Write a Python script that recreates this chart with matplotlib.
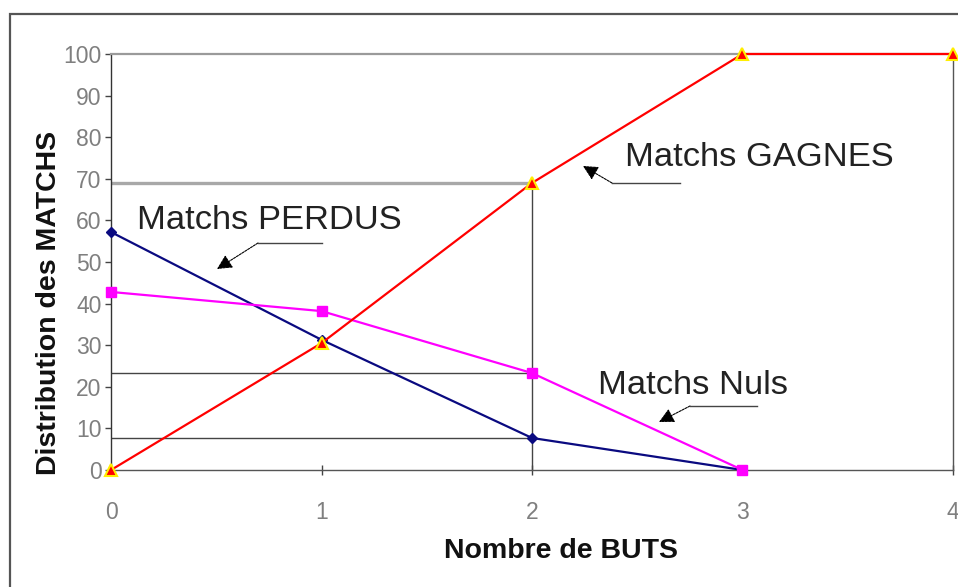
import matplotlib
matplotlib.use("Agg")
import matplotlib.pyplot as plt
from matplotlib.lines import Line2D
from matplotlib.patches import Rectangle

plt.rcParams['font.family'] = ['Liberation Sans', 'DejaVu Sans']

# ---- data ----
buts = [0, 1, 2, 3, 4]
gagnes = [0, 30.5, 69, 100, 100]
perdus = [57.2, 31.3, 7.7, 0]
nuls = [42.8, 38.2, 23.3, 0]
yticks = list(range(0, 101, 10))
xticks = [0, 1, 2, 3, 4]
ref_idx = 2  # highlighted number of goals

W, H = 958, 587
fig = plt.figure(figsize=(W / 100, H / 100), dpi=100)

def P(x, y):
    return (x / W, 1 - y / H)

# outer frame
fig.patches.append(Rectangle(P(10, 600), (970 - 10) / W, (600 - 14) / H,
                             transform=fig.transFigure, fill=False,
                             edgecolor='#555555', linewidth=1.6, clip_on=False))

ax = fig.add_axes([111 / W, 117 / H, 842 / W, 416 / H])
ax.set_xlim(0, 4)
ax.set_ylim(0, 100)

# spines
ax.spines['left'].set_color('#333333')
ax.spines['bottom'].set_color('#555555')
ax.spines['right'].set_color('#555555')
ax.spines['top'].set_color('#9a9a9a')
ax.spines['top'].set_linewidth(1.6)
for s in ['left', 'bottom', 'right']:
    ax.spines[s].set_linewidth(1.0)

# reference lines at the highlighted abscissa
xr = buts[ref_idx]
ax.plot([0, xr], [gagnes[ref_idx]] * 2, color='#a8a8a8', lw=2.4, zorder=1)
ax.plot([0, xr], [nuls[ref_idx]] * 2, color='#444444', lw=1.0, zorder=1)
ax.plot([0, xr], [perdus[ref_idx]] * 2, color='#444444', lw=1.0, zorder=1)
ax.plot([xr, xr], [0, gagnes[ref_idx]], color='#444444', lw=1.0, zorder=1)

# series
ax.plot(buts[:len(perdus)], perdus, color='#0a0a80', lw=1.6, marker='D',
        ms=5, mfc='#0a0a80', mec='#0a0a80', zorder=3, clip_on=False)
ax.plot(buts[:len(nuls)], nuls, color='#ff00ff', lw=1.6, marker='s',
        ms=7.5, mfc='#ff00ff', mec='#ff00ff', zorder=3, clip_on=False)
ax.plot(buts, gagnes, color='#ff0000', lw=1.6, marker='^',
        ms=8, mfc='#ff0000', mec='#ffee00', mew=1.5, zorder=4, clip_on=False)

# ticks
ax.set_xticks(xticks)
ax.set_yticks(yticks)
ax.tick_params(axis='y', direction='out', length=4.3, width=1, color='#444444',
               pad=2.5, labelsize=16.5, labelcolor='#7f7f7f')
ax.tick_params(axis='x', direction='inout', length=7.2, width=1, color='#444444',
               pad=19, labelsize=16.5, labelcolor='#7f7f7f')

# axis labels
ax.set_xlabel('Nombre de BUTS', fontsize=20.5, fontweight='bold', color='#111111')
ax.set_ylabel('Distribution des MATCHS', fontsize=20.5, fontweight='bold', color='#111111')
ax.xaxis.set_label_coords((561 - 111) / 842, -0.1625)
ax.yaxis.set_label_coords(-0.0582, 0.4026)

# annotations
txt_kw = dict(fontsize=24.8, color='#222222', va='center', ha='left',
              transform=fig.transFigure)
fig.text(*P(625, 158), 'Matchs GAGNES', **txt_kw)
fig.text(*P(137, 220), 'Matchs PERDUS', **txt_kw)
fig.text(*P(598, 385), 'Matchs Nuls', **txt_kw)

def pointer(x0, x1, y, tx, ty):
    fig.add_artist(Line2D([P(x0, y)[0], P(x1, y)[0]], [P(x0, y)[1], P(x1, y)[1]],
                          transform=fig.transFigure, color='#444444', lw=1.0))
    ax.annotate('', xy=P(tx, ty), xycoords='figure fraction',
                xytext=P(x0, y), textcoords='figure fraction',
                arrowprops=dict(arrowstyle='-|>,head_length=0.9,head_width=0.45',
                                color='black', lw=0.8, shrinkA=0, shrinkB=0,
                                linestyle=(0, (2, 1))),
                annotation_clip=False)

pointer(612, 680, 183, 583, 166)
pointer(258, 322, 243, 217, 269)
pointer(690, 757, 406, 659, 422)

fig.savefig('out.png', dpi=100)
